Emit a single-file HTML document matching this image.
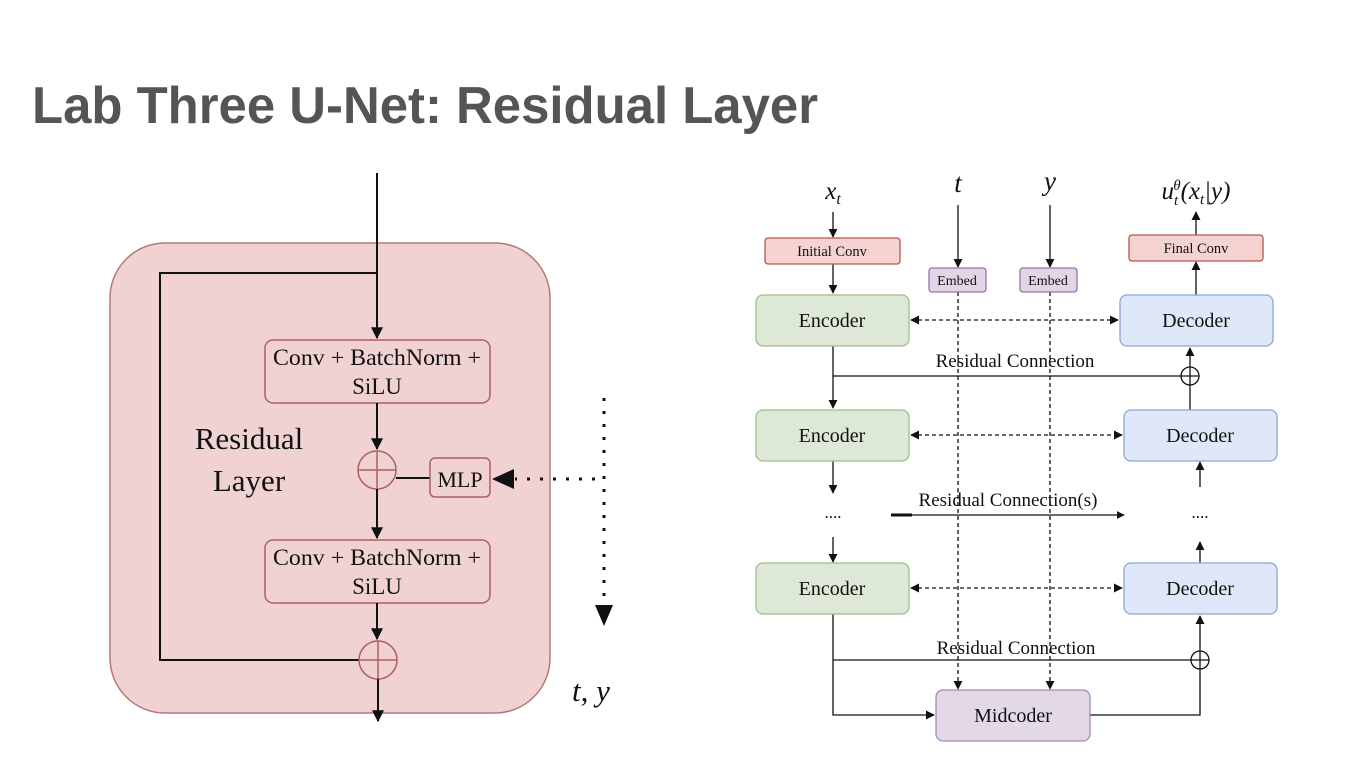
<!DOCTYPE html>
<html><head><meta charset="utf-8"><style>
html,body{margin:0;padding:0;background:#fff;}
svg{display:block;}
.s{font-family:"Liberation Serif",serif;fill:#111;}
</style></head><body>
<svg width="1370" height="780" viewBox="0 0 1370 780" xmlns="http://www.w3.org/2000/svg">
<defs>
<marker id="a" viewBox="0 0 10 10" refX="9" refY="5" markerWidth="6" markerHeight="6" orient="auto-start-reverse"><path d="M0,0L10,5L0,10z" fill="#111"/></marker>
<marker id="b" viewBox="0 0 10 10" refX="9" refY="5" markerWidth="7" markerHeight="7" orient="auto-start-reverse"><path d="M0,0L10,5L0,10z" fill="#111"/></marker>
</defs>
<text x="32" y="123" font-family="Liberation Sans, sans-serif" font-weight="bold" font-size="52" fill="#555" textLength="786" lengthAdjust="spacingAndGlyphs">Lab Three U-Net: Residual Layer</text>

<!-- Left diagram -->
<rect x="110" y="243" width="440" height="470" rx="55" fill="#efd2d1" stroke="#b57878" stroke-width="1.5"/>
<line x1="377" y1="173" x2="377" y2="338" stroke="#111" stroke-width="2" marker-end="url(#a)"/>
<polyline points="377,273 160,273 160,660 359,660" fill="none" stroke="#111" stroke-width="2"/>
<rect x="265" y="340" width="225" height="63" rx="8" fill="#efd2d1" stroke="#b06060" stroke-width="1.5"/>
<text class="s" x="377" y="365" font-size="23" text-anchor="middle" textLength="208" lengthAdjust="spacingAndGlyphs">Conv + BatchNorm +</text>
<text class="s" x="377" y="394" font-size="23" text-anchor="middle">SiLU</text>
<line x1="377" y1="403" x2="377" y2="449" stroke="#111" stroke-width="2" marker-end="url(#a)"/>
<circle cx="377" cy="470" r="19" fill="#efd2d1" stroke="#b06060" stroke-width="1.5"/>
<line x1="358" y1="470" x2="396" y2="470" stroke="#b06060" stroke-width="1.5"/>
<line x1="377" y1="451" x2="377" y2="489" stroke="#b06060" stroke-width="1.5"/>
<line x1="396" y1="478" x2="430" y2="478" stroke="#111" stroke-width="2"/>
<rect x="430" y="458" width="60" height="39" rx="5" fill="#efd2d1" stroke="#b06060" stroke-width="1.5"/>
<text class="s" x="460" y="487" font-size="22" text-anchor="middle">MLP</text>
<line x1="595" y1="479" x2="515" y2="479" stroke="#111" stroke-width="3" stroke-dasharray="3,10"/>
<path d="M492,479L514,469L514,489z" fill="#111"/>
<line x1="604" y1="398" x2="604" y2="605" stroke="#111" stroke-width="3" stroke-dasharray="3,10"/>
<path d="M604,626L595,605L613,605z" fill="#111"/>
<line x1="377" y1="489" x2="377" y2="538" stroke="#111" stroke-width="2" marker-end="url(#a)"/>
<rect x="265" y="540" width="225" height="63" rx="8" fill="#efd2d1" stroke="#b06060" stroke-width="1.5"/>
<text class="s" x="377" y="565" font-size="23" text-anchor="middle" textLength="208" lengthAdjust="spacingAndGlyphs">Conv + BatchNorm +</text>
<text class="s" x="377" y="594" font-size="23" text-anchor="middle">SiLU</text>
<line x1="377" y1="603" x2="377" y2="639" stroke="#111" stroke-width="2" marker-end="url(#a)"/>
<circle cx="378" cy="660" r="19" fill="#efd2d1" stroke="#b06060" stroke-width="1.5"/>
<line x1="359" y1="660" x2="397" y2="660" stroke="#b06060" stroke-width="1.5"/>
<line x1="378" y1="641" x2="378" y2="679" stroke="#b06060" stroke-width="1.5"/>
<line x1="378" y1="679" x2="378" y2="721" stroke="#111" stroke-width="2" marker-end="url(#a)"/>
<text class="s" x="249" y="449" font-size="31" text-anchor="middle">Residual</text>
<text class="s" x="249" y="491" font-size="31" text-anchor="middle">Layer</text>
<text class="s" x="572" y="701" font-size="31" font-style="italic">t, y</text>

<!-- Right diagram -->
<g stroke="#111" stroke-width="1.3" fill="none">
<line x1="833" y1="212" x2="833" y2="237" marker-end="url(#b)"/>
<line x1="833" y1="264" x2="833" y2="293" marker-end="url(#b)"/>
<line x1="958" y1="205" x2="958" y2="267" marker-end="url(#b)"/>
<line x1="1050" y1="205" x2="1050" y2="267" marker-end="url(#b)"/>
<line x1="1196" y1="235" x2="1196" y2="212" marker-end="url(#b)"/>
<line x1="1196" y1="295" x2="1196" y2="262" marker-end="url(#b)"/>
<line x1="958" y1="292" x2="958" y2="689" stroke-dasharray="4,3" marker-end="url(#b)"/>
<line x1="1050" y1="292" x2="1050" y2="689" stroke-dasharray="4,3" marker-end="url(#b)"/>
<line x1="911" y1="320" x2="1118" y2="320" stroke-dasharray="4,3" marker-start="url(#b)" marker-end="url(#b)"/>
<line x1="911" y1="435" x2="1122" y2="435" stroke-dasharray="4,3" marker-start="url(#b)" marker-end="url(#b)"/>
<line x1="911" y1="588" x2="1122" y2="588" stroke-dasharray="4,3" marker-start="url(#b)" marker-end="url(#b)"/>
<line x1="833" y1="346" x2="833" y2="408" marker-end="url(#b)"/>
<line x1="833" y1="376" x2="1181" y2="376"/>
<circle cx="1190" cy="376" r="9"/>
<line x1="1181" y1="376" x2="1199" y2="376"/><line x1="1190" y1="367" x2="1190" y2="385"/>
<line x1="1190" y1="410" x2="1190" y2="385"/>
<line x1="1190" y1="367" x2="1190" y2="348" marker-end="url(#b)"/>
<line x1="833" y1="461" x2="833" y2="493" marker-end="url(#b)"/>
<line x1="833" y1="537" x2="833" y2="562" marker-end="url(#b)"/>
<line x1="891" y1="515" x2="1124" y2="515" marker-end="url(#a)"/>
<line x1="891" y1="515" x2="912" y2="515" stroke-width="3"/>
<line x1="1200" y1="487" x2="1200" y2="462" marker-end="url(#b)"/>
<line x1="1200" y1="563" x2="1200" y2="542" marker-end="url(#b)"/>
<polyline points="833,614 833,715 934,715" marker-end="url(#b)"/>
<line x1="833" y1="660" x2="1191" y2="660"/>
<circle cx="1200" cy="660" r="9"/>
<line x1="1191" y1="660" x2="1209" y2="660"/><line x1="1200" y1="651" x2="1200" y2="669"/>
<polyline points="1090,715 1200,715 1200,669"/>
<line x1="1200" y1="651" x2="1200" y2="616" marker-end="url(#b)"/>
</g>
<text class="s" x="833" y="199" font-size="25" font-style="italic" text-anchor="middle">x<tspan font-size="16" dy="5">t</tspan></text>
<text class="s" x="958" y="192" font-size="27" font-style="italic" text-anchor="middle">t</text>
<text class="s" x="1050" y="190" font-size="27" font-style="italic" text-anchor="middle">y</text>
<text class="s" x="1196" y="199" font-size="25" font-style="italic" text-anchor="middle">u<tspan font-size="15" dy="6">t</tspan><tspan font-size="15" dx="-5" dy="-15">θ</tspan><tspan dy="9">(x</tspan><tspan font-size="15" dy="5">t</tspan><tspan dy="-5">|y)</tspan></text>

<rect x="765" y="238" width="135" height="26" rx="3" fill="#f5d3d1" stroke="#b85450" stroke-width="1.3"/>
<text class="s" x="832" y="256" font-size="14.5" text-anchor="middle">Initial Conv</text>
<rect x="1129" y="235" width="134" height="26" rx="3" fill="#f5d3d1" stroke="#b85450" stroke-width="1.3"/>
<text class="s" x="1196" y="253" font-size="14.5" text-anchor="middle">Final Conv</text>
<rect x="929" y="268" width="57" height="24" rx="3" fill="#e1d5e7" stroke="#9673a6" stroke-width="1.3"/>
<text class="s" x="957" y="285" font-size="14" text-anchor="middle">Embed</text>
<rect x="1020" y="268" width="57" height="24" rx="3" fill="#e1d5e7" stroke="#9673a6" stroke-width="1.3"/>
<text class="s" x="1048" y="285" font-size="14" text-anchor="middle">Embed</text>

<g stroke-width="1.3">
<rect x="756" y="295" width="153" height="51" rx="7" fill="#dde8d6" stroke="#9cbf88"/>
<rect x="756" y="410" width="153" height="51" rx="7" fill="#dde8d6" stroke="#9cbf88"/>
<rect x="756" y="563" width="153" height="51" rx="7" fill="#dde8d6" stroke="#9cbf88"/>
<rect x="1120" y="295" width="153" height="51" rx="7" fill="#dfe8f8" stroke="#8aa6d2"/>
<rect x="1124" y="410" width="153" height="51" rx="7" fill="#dfe8f8" stroke="#8aa6d2"/>
<rect x="1124" y="563" width="153" height="51" rx="7" fill="#dfe8f8" stroke="#8aa6d2"/>
<rect x="936" y="690" width="154" height="51" rx="7" fill="#e2d8e8" stroke="#a08cb0"/>
</g>
<g class="s" font-size="20" text-anchor="middle">
<text x="832" y="327">Encoder</text>
<text x="832" y="442">Encoder</text>
<text x="832" y="595">Encoder</text>
<text x="1196" y="327">Decoder</text>
<text x="1200" y="442">Decoder</text>
<text x="1200" y="595">Decoder</text>
<text x="1013" y="722">Midcoder</text>
<text x="1015" y="367" font-size="19">Residual Connection</text>
<text x="1008" y="506" font-size="19">Residual Connection(s)</text>
<text x="1016" y="654" font-size="19">Residual Connection</text>
<text x="833" y="518" font-size="17">....</text>
<text x="1200" y="518" font-size="17">....</text>
</g>
</svg>
</body></html>
